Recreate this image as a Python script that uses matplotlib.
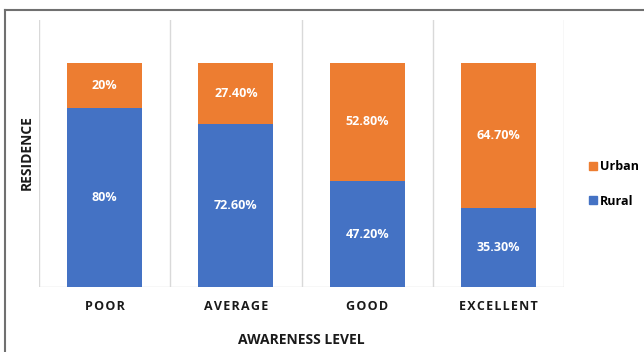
import matplotlib
matplotlib.use("Agg")
import matplotlib.pyplot as plt
from matplotlib.lines import Line2D
from matplotlib.patches import Patch
import numpy as np

categories = ["POOR", "AVERAGE", "GOOD", "EXCELLENT"]
rural = [80.0, 72.6, 47.2, 35.3]
urban = [20.0, 27.4, 52.8, 64.7]
rural_labels = ["80%", "72.60%", "47.20%", "35.30%"]
urban_labels = ["20%", "27.40%", "52.80%", "64.70%"]

BLUE = "#4472C4"
ORANGE = "#ED7D31"

plt.rcParams["font.family"] = ["Open Sans", "DejaVu Sans"]

fig = plt.figure(figsize=(6.44, 3.52), dpi=100)
W, H = 644, 352
ax = fig.add_axes([39 / W, 1 - 287 / H, (564 - 39) / W, (287 - 20) / H])

x = np.arange(len(categories))
width = 0.57
ax.bar(x, rural, width, color=BLUE, label="Rural", zorder=3)
ax.bar(x, urban, width, bottom=rural, color=ORANGE, label="Urban", zorder=3)

for xi, r, u, rl, ul in zip(x, rural, urban, rural_labels, urban_labels):
    ax.text(xi, r / 2, rl, ha="center", va="center", color="white",
            fontsize=9, fontweight="bold", zorder=4)
    ax.text(xi, r + u / 2, ul, ha="center", va="center", color="white",
            fontsize=9, fontweight="bold", zorder=4)

ax.set_xlim(-0.5, len(categories) - 0.5)
ax.set_ylim(0, 119)

# category separators
for b in np.arange(-0.5, len(categories), 1.0):
    ax.axvline(b, color="#D9D9D9", lw=1.0, zorder=1)

for s in ax.spines.values():
    s.set_visible(False)
ax.axhline(0, color="#D9D9D9", lw=1.0, zorder=2)

ax.set_yticks([])
ax.set_xticks(x)
ax.set_xticklabels(["\u200a".join(c) for c in categories], fontsize=9,
                   fontweight="bold", color="#1a1a1a")
ax.tick_params(axis="x", length=0, pad=9)

fig.text(301 / W, 1 - 340 / H, "AWARENESS LEVEL", ha="center", va="center",
         fontsize=10, fontweight="bold", color="#1a1a1a")
fig.text(27 / W, 1 - 153 / H, "RESIDENCE", ha="center", va="center",
         rotation=90, fontsize=10, fontweight="bold", color="#1a1a1a")

handles = [Patch(color=ORANGE, label="Urban"), Patch(color=BLUE, label="Rural")]
fig.legend(handles=handles, loc="center left", bbox_to_anchor=(578 / W, 1 - 184 / H),
           frameon=False, handlelength=0.6, handleheight=0.6, handletextpad=0.25,
           labelspacing=1.7, prop={"weight": "bold", "size": 9})

# outer frame on top and left
fig.add_artist(Line2D([5 / W, 1], [1 - 10 / H, 1 - 10 / H], color="#707070",
                      lw=1.5, transform=fig.transFigure))
fig.add_artist(Line2D([5 / W, 5 / W], [0, 1 - 10 / H], color="#707070",
                      lw=1.5, transform=fig.transFigure))

fig.savefig("out.png", dpi=100)
